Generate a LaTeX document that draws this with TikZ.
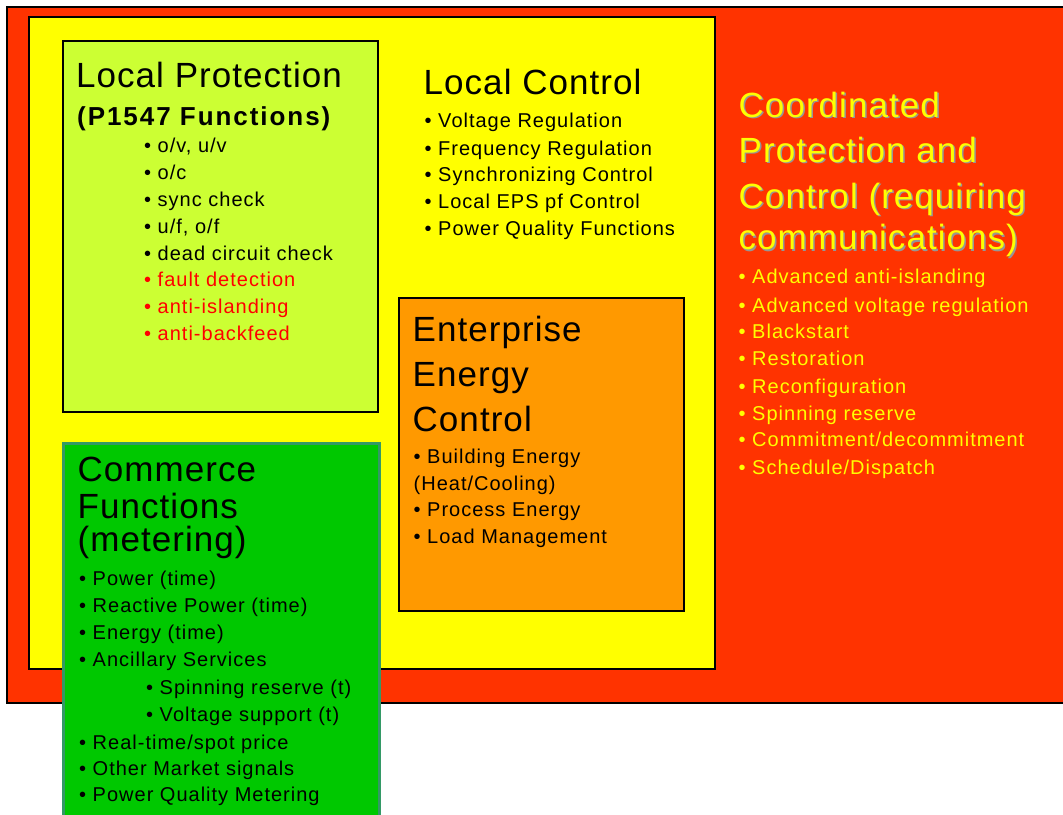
\documentclass[tikz,border=0pt]{standalone}
\usepackage{fontspec}
\setmainfont{Liberation Sans}
\newfontfamily\titlef[LetterSpace=3]{Liberation Sans}
\newfontfamily\boldf[LetterSpace=7.5]{Liberation Sans}
\newfontfamily\bulf[LetterSpace=5]{Liberation Sans}
\definecolor{cpred}{RGB}{255,51,0}
\definecolor{lcyellow}{RGB}{255,255,0}
\definecolor{lpgreen}{RGB}{204,255,51}
\definecolor{eorange}{RGB}{255,153,0}
\definecolor{cgreen}{RGB}{0,200,0}
\definecolor{cborder}{RGB}{51,153,102}
\definecolor{txtred}{RGB}{255,0,0}
\definecolor{shadowgray}{RGB}{150,150,150}
\tikzset{
  panel/.style={draw=black, line width=1.1pt},
  ttl/.style={anchor=base west, inner sep=0pt, font=\titlef\fontsize{35}{40}\selectfont},
  subttl/.style={anchor=base west, inner sep=0pt, font=\boldf\bfseries\fontsize{26}{30}\selectfont},
  bul/.style={anchor=base west, inner sep=0pt, font=\bulf\fontsize{20}{24}\selectfont},
  ytxt/.style={text=lcyellow},
  shd/.style={text=shadowgray}
}
\begin{document}
\begin{tikzpicture}[x=1pt,y=-1pt]
\useasboundingbox (0,0) rectangle (1063,814);
\clip (0,0) rectangle (1063,814);
% boxes
\path[panel, fill=cpred] (7,7) rectangle (1075,703);
\path[panel, fill=lcyellow] (29,17) rectangle (715,669);
\path[panel, fill=lpgreen] (63,41) rectangle (378,412);
\path[panel, fill=eorange] (399,298) rectangle (684,611);
\path[draw=cborder, line width=3pt, fill=cgreen] (63,443) rectangle (379,830);

% Local Protection
\node[ttl] (lpt) at (76,87) {Local Protection};
\node[subttl] (lps) at (77,125) {(P1547 Functions)};
\node[bul] (lp1) at (144,152) {• o/v, u/v};
\node[bul] (lp2) at (144,179) {• o/c};
\node[bul] (lp3) at (144,206) {• sync check};
\node[bul] (lp4) at (144,233) {• u/f, o/f};
\node[bul] (lp5) at (144,260) {• dead circuit check};
\node[bul, text=txtred] (lp6) at (144,286) {• fault detection};
\node[bul, text=txtred] (lp7) at (144,313) {• anti-islanding};
\node[bul, text=txtred] (lp8) at (144,340) {• anti-backfeed};

% Local Control
\node[ttl] (lct) at (423.5,94.5) {Local Control};
\node[bul] (lc1) at (424.5,127.5) {• Voltage Regulation};
\node[bul] (lc2) at (424.5,155) {• Frequency Regulation};
\node[bul] (lc3) at (424.5,181.5) {• Synchronizing Control};
\node[bul] (lc4) at (424.5,208) {• Local EPS pf Control};
\node[bul] (lc5) at (424.5,235) {• Power Quality Functions};

% Coordinated
\node[ttl, shd] (cts1) at (740,118.5) {Coordinated};
\node[ttl, ytxt] (ct1) at (738.5,117) {Coordinated};
\node[ttl, shd] (cts2) at (740,163.5) {Protection and};
\node[ttl, ytxt] (ct2) at (738.5,162) {Protection and};
\node[ttl, shd] (cts3) at (740,209.5) {Control (requiring};
\node[ttl, ytxt] (ct3) at (738.5,208) {Control (requiring};
\node[ttl, shd] (cts4) at (740,251) {communications)};
\node[ttl, ytxt] (ct4) at (738.5,249.5) {communications)};
\node[bul, ytxt] (cp1) at (738.5,283.5) {• Advanced anti-islanding};
\node[bul, ytxt] (cp2) at (738.5,312.5) {• Advanced voltage regulation};
\node[bul, ytxt] (cp3) at (738.5,338.5) {• Blackstart};
\node[bul, ytxt] (cp4) at (738.5,365) {• Restoration};
\node[bul, ytxt] (cp5) at (738.5,393) {• Reconfiguration};
\node[bul, ytxt] (cp6) at (738.5,420) {• Spinning reserve};
\node[bul, ytxt] (cp7) at (738.5,446.5) {• Commitment/decommitment};
\node[bul, ytxt] (cp8) at (738.5,474) {• Schedule/Dispatch};

% Enterprise
\node[ttl] (et1) at (412.5,341.5) {Enterprise};
\node[ttl] (et2) at (412.5,386) {Energy};
\node[ttl] (et3) at (412.5,431.5) {Control};
\node[bul] (ep1) at (413.5,463.5) {• Building Energy};
\node[bul] (ep2) at (413.5,490) {(Heat/Cooling)};
\node[bul] (ep3) at (413.5,516.5) {• Process Energy};
\node[bul] (ep4) at (413.5,543.5) {• Load Management};

% Commerce
\node[ttl] (mt1) at (77.5,481.5) {Commerce};
\node[ttl] (mt2) at (77.5,518) {Functions};
\node[ttl] (mt3) at (77.5,551.5) {(metering)};
\node[bul] (mp1) at (79,585.5) {• Power (time)};
\node[bul] (mp2) at (79,612.5) {• Reactive Power (time)};
\node[bul] (mp3) at (79,639.5) {• Energy (time)};
\node[bul] (mp4) at (79,666.5) {• Ancillary Services};
\node[bul] (mp5) at (146,694) {• Spinning reserve (t)};
\node[bul] (mp6) at (146,721.5) {• Voltage support (t)};
\node[bul] (mp7) at (79,749) {• Real-time/spot price};
\node[bul] (mp8) at (79,775) {• Other Market signals};
\node[bul] (mp9) at (79,801.5) {• Power Quality Metering};
\end{tikzpicture}
\end{document}
